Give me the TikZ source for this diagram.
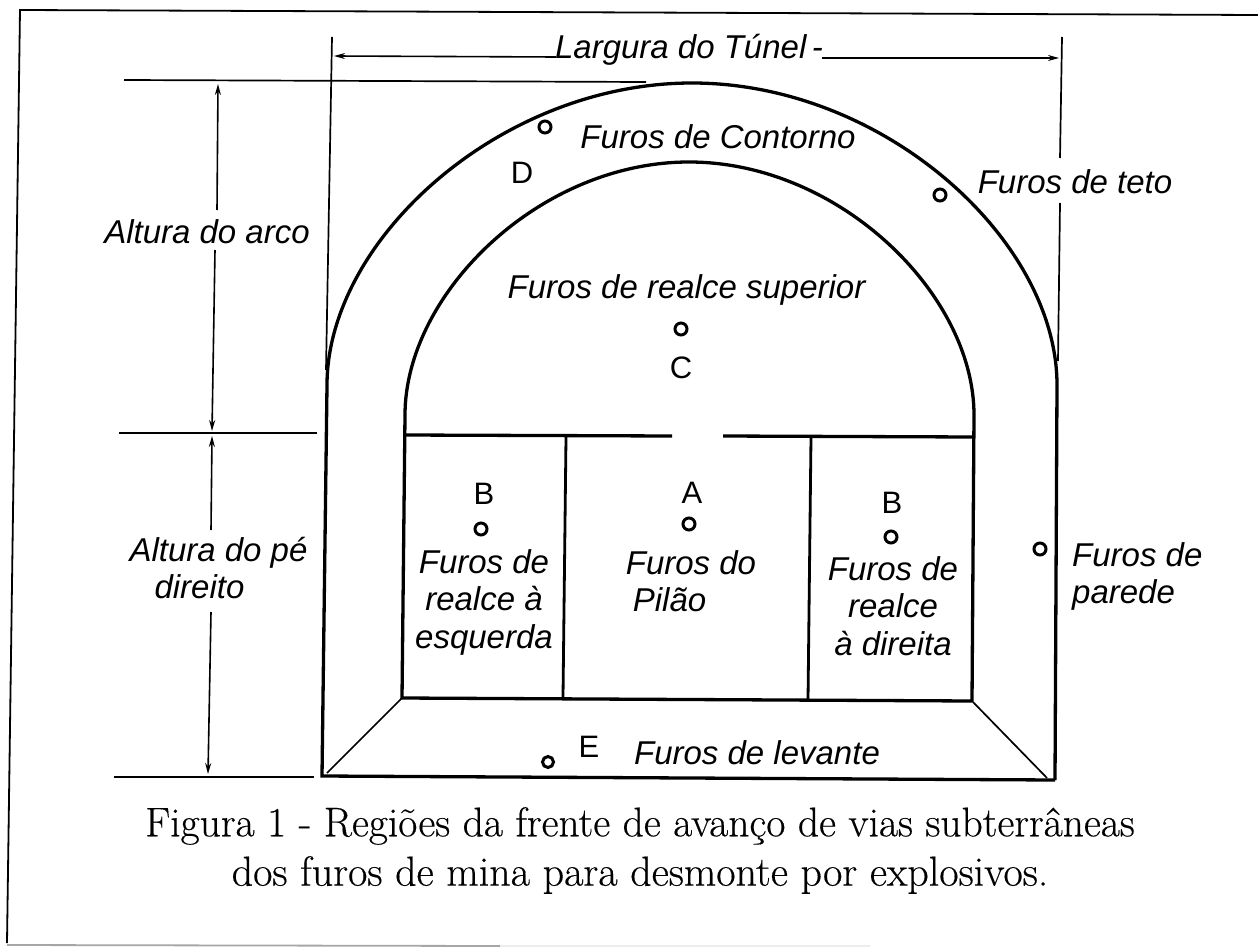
\documentclass[tikz,border=0pt]{standalone}
\usepackage{fontspec}
\setmainfont{Latin Modern Roman}
\newfontfamily\capfont[FakeBold=0.35]{Latin Modern Roman}
\newfontfamily\lblfont{Liberation Sans}
\usetikzlibrary{arrows.meta}
\tikzset{
  heavy/.style={line width=3.3pt,line join=miter},
  medium/.style={line width=2.8pt},
  thin line/.style={line width=1.7pt},
  dimtip/.style={-{Stealth[length=11pt,width=6pt]},line width=1.6pt},
  hole/.style={circle,draw,line width=3pt,minimum size=12pt,inner sep=0pt},
  lbl/.style={font=\lblfont\itshape\fontsize{33}{37.5}\selectfont,inner sep=0pt,align=center},
  lblL/.style={font=\lblfont\itshape\fontsize{33}{37}\selectfont,inner sep=0pt,align=left},
  letter/.style={font=\lblfont\fontsize{31}{33}\selectfont,inner sep=0pt},
  captext/.style={font=\capfont\fontsize{41.5}{50}\selectfont,inner sep=0pt,align=center}
}
\begin{document}
\begin{tikzpicture}[x=1pt,y=-1pt]
\useasboundingbox (0,0) rectangle (1258,947);
\fill[white] (0,0) rectangle (1258,947);
% frame
\draw[line width=1.8pt] (1258,15) -- (20,10) -- (7,943);
\draw[line width=1.8pt,gray!70] (7,945) -- (500,946);
\draw[line width=1.8pt,gray!15] (500,946) -- (870,946);
% tunnel outer
\coordinate (OBL) at (322,776); \coordinate (OBR) at (1055,780);
\coordinate (OAL) at (327,385); \coordinate (OAR) at (1057,385);
\coordinate (OT) at (692,83);
\draw[heavy] (OBR) -- (OBL) -- (OAL)
  .. controls (327,240) and (500,83) .. (OT)
  .. controls (884,83) and (1057,240) .. (OAR) -- (OBR);
% tunnel inner
\coordinate (IBL) at (402,698); \coordinate (IBR) at (972,701);
\coordinate (IAL) at (405,415); \coordinate (IAR) at (974,415);
\coordinate (IT) at (689,162);
\draw[heavy] (IBR) -- (IBL) -- (IAL)
  .. controls (405,294) and (539,162) .. (IT)
  .. controls (839,162) and (974,294) .. (IAR) -- (IBR);
\draw[heavy] (405,435) -- (672,436);
\draw[heavy] (723,436) -- (974,437);
\draw[medium] (566,437) -- (563,697);
\draw[medium] (811,437) -- (808,700);
\coordinate (DgL) at (327,773); \coordinate (DgR) at (1047,778);
\draw[thin line] (IBL) -- (DgL);
\draw[thin line] (IBR) -- (DgR);
% dimension lines
\coordinate (LgL) at (334,56); \coordinate (LgR) at (1059,58);
\coordinate (LgA) at (556,57); \coordinate (LgB) at (822,58);
\coordinate (AtT) at (218,84); \coordinate (AtU) at (217,210);
\coordinate (AtV) at (215,250); \coordinate (AtM) at (212,431);
\coordinate (PdT) at (212,436); \coordinate (PdU) at (211,530);
\coordinate (PdV) at (211,612); \coordinate (PdB) at (208,774);
\draw[thin line] (124,80) -- (646,82);
\draw[thin line] (332,37) -- (326,370);
\draw[thin line] (1062,37) -- (1060,158);
\draw[thin line] (1060,203) -- (1058,361);
\draw[thin line] (119,433) -- (317,433);
\draw[thin line] (114,777) -- (314,777);
\node[lbl] (larg) at (689,50) {Largura do Túnel\,-};
\draw[dimtip] (LgA) -- (LgL);
\draw[dimtip] (LgB) -- (LgR);
\node[lbl] (arco) at (207,232) {Altura do arco};
\draw[dimtip] (AtU) -- (AtT);
\draw[dimtip] (AtV) -- (AtM);
\node[lblL] (pe) at (218.5,568) {Altura do pé\\\hspace*{25pt}direito};
\draw[dimtip] (PdU) -- (PdT);
\draw[dimtip] (PdV) -- (PdB);
% holes
\node[hole] (h1) at (545,127) {};
\node[hole] (h2) at (940,195) {};
\node[hole] (h3) at (681,329) {};
\node[hole] (h4) at (481,529) {};
\node[hole] (h5) at (689,524) {};
\node[hole] (h6) at (891,537) {};
\node[hole] (h7) at (1040,549) {};
\node[hole,minimum size=11pt] (h8) at (548,762) {};
% letters
\node[letter] (lD) at (522,173) {D};
\node[letter] (lC) at (681,368) {C};
\node[letter] (lB) at (484,494) {B};
\node[letter] (lA) at (692,493) {A};
\node[letter] (lB2) at (892,503) {B};
\node[letter] (lE) at (589,747) {E};
% labels
\node[lbl] (t1) at (718,137) {Furos de Contorno};
\node[lbl] (t2) at (1075,182) {Furos de teto};
\node[lbl] (t3) at (686.5,290) {Furos de realce superior};
\node[lbl] (t4) at (484,602) {Furos de\\realce à\\esquerda};
\node[lblL] (t5) at (691,581) {Furos do\\\hspace*{7pt}Pilão};
\node[lbl] (t6) at (893,606) {Furos de\\realce\\à direita};
\node[lblL,anchor=west] (t7) at (1072,576) {Furos de\\parede};
\node[lbl] (t8) at (757,753) {Furos de levante};
% caption
\node[captext] (c1) at (640,826) {Figura 1 - Regiões da frente de avanço de vias subterrâneas};
\node[captext,font=\capfont\fontsize{42}{50}\selectfont] (c2) at (640,875) {dos furos de mina para desmonte por explosivos.};
\end{tikzpicture}
\end{document}
